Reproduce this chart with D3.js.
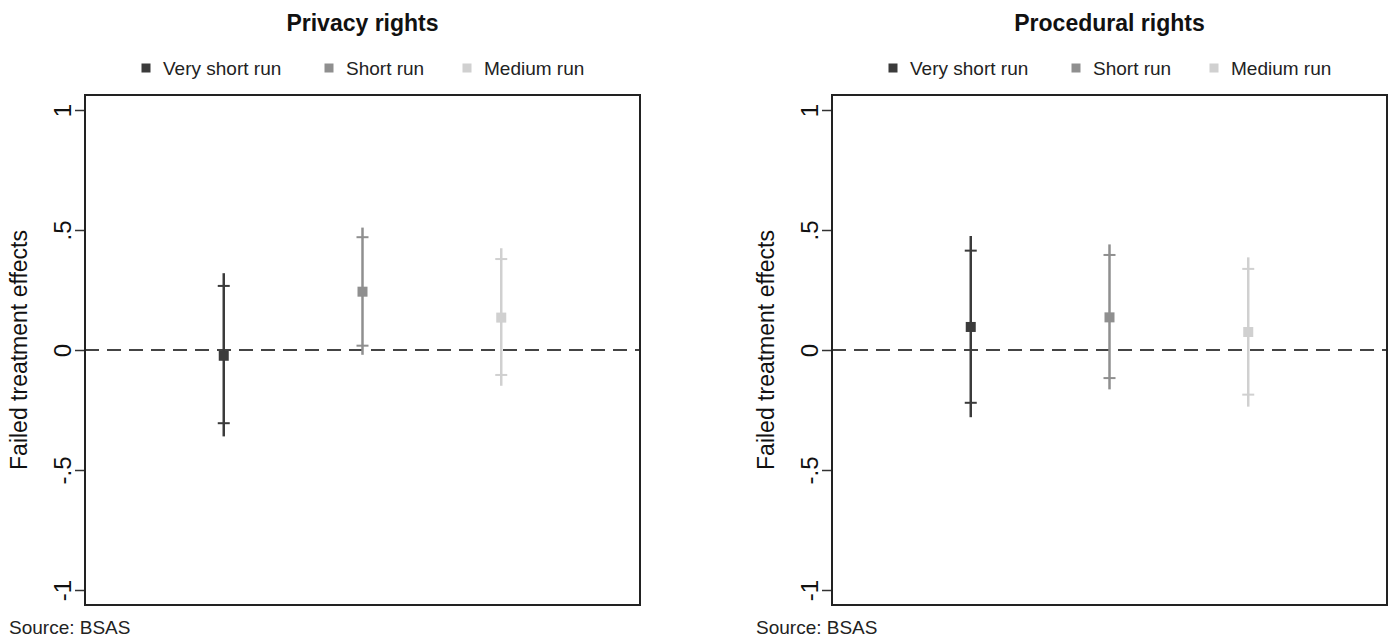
<!DOCTYPE html>
<html>
<head>
<meta charset="utf-8">
<script src="https://cdn.jsdelivr.net/npm/d3@7"></script>
<style>
  body { margin: 0; background: #fff; }
  svg { display: block; font-family: Arial, "Liberation Sans", sans-serif; }
</style>
</head>
<body>
<svg width="1398" height="641"></svg>
<script>
// data
const categories = ["Very short run", "Short run", "Medium run"];
const panelTitles = ["Privacy rights", "Procedural rights"];

const privacyEst  = [-0.024, 0.243, 0.135];
const privacyLo90 = [-0.305, 0.018, -0.104];
const privacyHi90 = [0.267, 0.470, 0.379];
const privacyLo95 = [-0.360, -0.020, -0.149];
const privacyHi95 = [0.320, 0.510, 0.424];

const proceduralEst  = [0.096, 0.136, 0.075];
const proceduralLo90 = [-0.220, -0.117, -0.186];
const proceduralHi90 = [0.414, 0.396, 0.338];
const proceduralLo95 = [-0.280, -0.164, -0.236];
const proceduralHi95 = [0.475, 0.440, 0.386];

const yTicks = [-1, -0.5, 0, 0.5, 1];
const yTickLabels = ["-1", "-.5", "0", ".5", "1"];
const yTitle = "Failed treatment effects";
const source = "Source: BSAS";

const colors = ["#3b3b3b", "#8f8f8f", "#d0d0d0"];

const svg = d3.select("svg");
const panelLeft = [85, 832];
const plotTop = 95, w = 555, h = 510;

const x = d3.scaleLinear().domain([0, 4]).range([0, w]);
const y = d3.scaleLinear().domain([-1.0625, 1.0625]).range([h, 0]);

const panels = [
  { title: panelTitles[0], est: privacyEst, lo90: privacyLo90, hi90: privacyHi90, lo95: privacyLo95, hi95: privacyHi95 },
  { title: panelTitles[1], est: proceduralEst, lo90: proceduralLo90, hi90: proceduralHi90, lo95: proceduralLo95, hi95: proceduralHi95 }
];

const legendSq = [146, 329, 467];

panels.forEach((p, pi) => {
  const ox = panelLeft[pi];
  const g = svg.append("g").attr("transform", `translate(${ox},${plotTop})`);

  // title
  svg.append("text")
    .attr("x", ox + w / 2).attr("y", 31)
    .attr("text-anchor", "middle")
    .attr("font-size", 23).attr("font-weight", "bold")
    .attr("fill", "#111")
    .text(p.title);

  // legend
  const lg = svg.append("g").attr("transform", `translate(${ox - 85},0)`);
  categories.forEach((c, i) => {
    lg.append("rect")
      .attr("x", legendSq[i] - 4.5).attr("y", 63.5)
      .attr("width", 9).attr("height", 9)
      .attr("fill", colors[i]);
    lg.append("text")
      .attr("x", legendSq[i] + 17).attr("y", 75)
      .attr("font-size", 19).attr("fill", "#222")
      .text(c);
  });

  // y axis
  const ax = g.append("g")
    .call(d3.axisLeft(y).tickValues(yTicks).tickSize(10)
      .tickFormat((d, i) => yTickLabels[i]));
  ax.select(".domain").remove();
  ax.selectAll(".tick line").attr("stroke", "#333").attr("stroke-width", 1.5);
  ax.selectAll(".tick text")
    .attr("x", 0).attr("y", 0).attr("dy", null)
    .attr("transform", "translate(-14,0) rotate(-90)")
    .attr("text-anchor", "middle")
    .attr("font-size", 24).attr("fill", "#111")
    .attr("font-family", "Arial, 'Liberation Sans', sans-serif");

  // axis title
  g.append("text")
    .attr("transform", `translate(-58,${y(0)}) rotate(-90)`)
    .attr("text-anchor", "middle")
    .attr("font-size", 23).attr("fill", "#111")
    .text(yTitle);

  // zero line
  g.append("line")
    .attr("x1", 0).attr("x2", w)
    .attr("y1", y(0)).attr("y2", y(0))
    .attr("stroke", "#444").attr("stroke-width", 2)
    .attr("stroke-dasharray", "14,8");

  const idx = d3.range(categories.length);

  // outer interval line
  g.selectAll(".ci95").data(idx).join("line")
    .attr("class", "ci95")
    .attr("x1", i => x(i + 1)).attr("x2", i => x(i + 1))
    .attr("y1", i => y(p.lo95[i])).attr("y2", i => y(p.hi95[i]))
    .attr("stroke", i => colors[i]).attr("stroke-width", 2.5);

  // inner interval caps
  ["lo90", "hi90"].forEach(k => {
    g.selectAll("." + k).data(idx).join("line")
      .attr("class", k)
      .attr("x1", i => x(i + 1) - 6).attr("x2", i => x(i + 1) + 6)
      .attr("y1", i => y(p[k][i])).attr("y2", i => y(p[k][i]))
      .attr("stroke", i => colors[i]).attr("stroke-width", 2);
  });

  // point estimates
  g.selectAll(".pt").data(idx).join("rect")
    .attr("class", "pt")
    .attr("x", i => x(i + 1) - 5).attr("y", i => y(p.est[i]) - 5)
    .attr("width", 10).attr("height", 10)
    .attr("fill", i => colors[i]);

  // frame
  g.append("rect")
    .attr("width", w).attr("height", h)
    .attr("fill", "none").attr("stroke", "#222").attr("stroke-width", 2);

  // source note
  svg.append("text")
    .attr("x", ox - 76).attr("y", 634)
    .attr("font-size", 19).attr("fill", "#222")
    .text(source);
});
</script>
</body>
</html>
